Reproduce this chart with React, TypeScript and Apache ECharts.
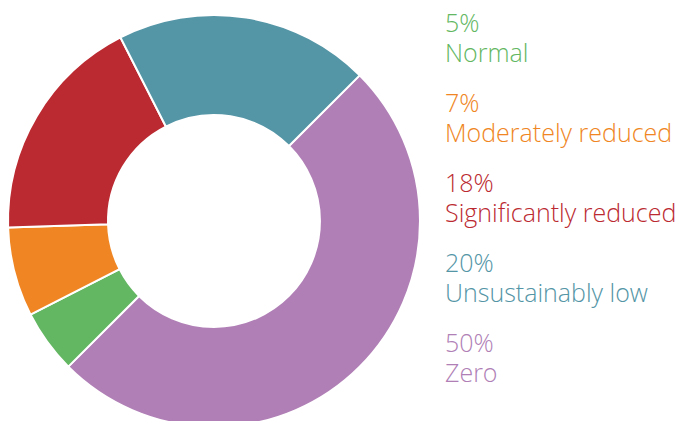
import React, { useEffect, useRef } from "react";
import * as echarts from "echarts";

// Share of each category (percent), drawn clockwise starting with "Zero"
const categories = ["Zero", "Normal", "Moderately reduced", "Significantly reduced", "Unsustainably low"];
const shares = [50, 5, 7, 18, 20];
const colors = ["#b07fb6", "#63b762", "#ef8623", "#bb2a31", "#5495a6"];
// Legend reads top to bottom in this order
const legendOrder = ["Normal", "Moderately reduced", "Significantly reduced", "Unsustainably low", "Zero"];

export default function App() {
  const ref = useRef<HTMLDivElement>(null);

  useEffect(() => {
    document.body.style.margin = "0";
    const chart = echarts.init(ref.current!, undefined, { renderer: "svg" });
    const shareOf = (name: string) => shares[categories.indexOf(name)];
    const colorOf = (name: string) => colors[categories.indexOf(name)];

    chart.setOption({
      animation: false,
      backgroundColor: "#ffffff",
      legend: {
        orient: "vertical",
        left: 435,
        top: 2,
        icon: "none",
        itemWidth: 0,
        itemHeight: 0,
        itemGap: 20,
        selectedMode: false,
        data: legendOrder.map((name) => ({
          name,
          textStyle: { color: colorOf(name) },
        })),
        formatter: (name: string) => `${shareOf(name)}%\n${name}`,
        textStyle: {
          fontFamily: "Open Sans",
          fontWeight: 300,
          fontSize: 25,
          lineHeight: 30,
        },
      },
      series: [
        {
          type: "pie",
          center: [214, 221],
          radius: [106, 206],
          startAngle: 45,
          clockwise: true,
          label: { show: false },
          labelLine: { show: false },
          emphasis: { disabled: true },
          itemStyle: { borderColor: "#ffffff", borderWidth: 2 },
          data: categories.map((name, i) => ({
            name,
            value: shares[i],
            itemStyle: { color: colors[i] },
          })),
        },
      ],
    });

    return () => chart.dispose();
  }, []);

  return <div ref={ref} style={{ position: "absolute", left: 0, top: 0, width: 678, height: 421 }} />;
}
